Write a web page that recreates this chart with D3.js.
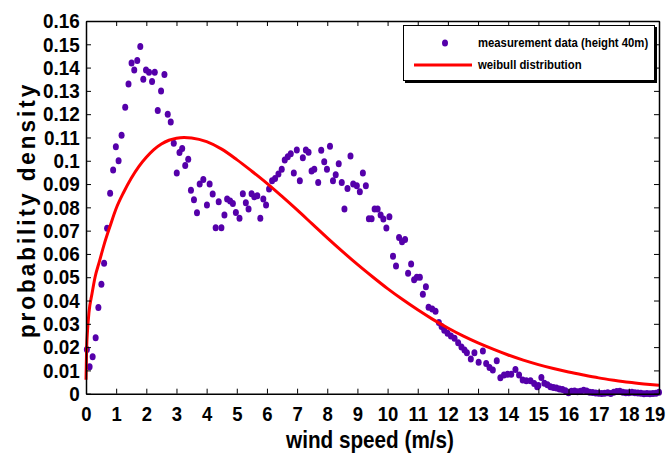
<!DOCTYPE html>
<html>
<head>
<meta charset="utf-8">
<script src="https://cdn.jsdelivr.net/npm/d3@7"></script>
<style>
  body { margin: 0; background: #fff; }
  svg { display: block; }
  .tick text, .lbl { font-family: "Liberation Sans", Arial, sans-serif; font-weight: bold; fill: #000; }
</style>
</head>
<body>
<div id="chart"></div>
<script>
// measured histogram (wind speed m/s, probability density)
const windSpeed = [0.03,0.12,0.22,0.32,0.41,0.51,0.60,0.70,0.80,0.90,0.99,1.08,1.18,1.30,1.41,1.51,1.60,1.70,1.80,1.90,
  1.99,2.09,2.19,2.28,2.38,2.49,2.60,2.71,2.81,2.91,3.01,3.10,3.19,3.29,3.39,3.48,3.58,3.68,3.77,3.89,
  4.01,4.10,4.20,4.30,4.40,4.49,4.59,4.68,4.78,4.87,4.97,5.09,5.20,5.30,5.39,5.49,5.58,5.68,5.78,5.88,
  5.97,6.07,6.17,6.27,6.38,6.49,6.59,6.69,6.79,6.89,6.99,7.09,7.19,7.29,7.38,7.48,7.57,7.70,7.80,7.90,
  7.99,8.09,8.19,8.28,8.38,8.48,8.57,8.67,8.77,8.86,8.98,9.08,9.18,9.28,9.38,9.47,9.57,9.67,9.77,9.86,
  9.96,10.06,10.18,10.28,10.38,10.48,10.58,10.68,10.78,10.88,10.97,11.07,11.17,11.27,11.36,11.48,11.59,11.70,11.79,11.88,
  11.99,12.10,12.22,12.34,12.45,12.55,12.63,12.76,12.88,13.02,13.16,13.27,13.38,13.49,13.62,13.74,13.86,13.98,14.10,14.24,
  14.36,14.48,14.60,14.74,14.86,14.96,15.0,15.1,15.2,15.3,15.4,15.5,15.6,15.7,15.8,15.9,16.0,16.1,16.2,16.3,
  16.4,16.5,16.6,16.7,16.8,16.9,17.0,17.1,17.2,17.3,17.4,17.5,17.6,17.7,17.8,17.9,18.0,18.1,18.2,18.3,
  18.4,18.5,18.6,18.7,18.8,18.9,19.0];
const measured = [0.019,0.0116,0.0159,0.024,0.037,0.047,0.056,0.071,0.086,0.096,0.106,0.100,0.111,0.123,0.133,0.142,0.139,0.143,0.149,0.135,
  0.139,0.138,0.134,0.138,0.1216,0.130,0.137,0.120,0.1166,0.1075,0.0947,0.1036,0.1053,0.098,0.1006,0.0873,0.0833,0.0777,0.090,0.092,
  0.081,0.090,0.0857,0.0712,0.0824,0.0712,0.0767,0.0836,0.0827,0.0817,0.0778,0.0753,0.0858,0.082,0.0793,0.0858,0.0845,0.085,0.0753,0.0836,
  0.081,0.0879,0.0914,0.0924,0.0943,0.0964,0.1003,0.1017,0.103,0.0947,0.1046,0.0914,0.1013,0.1046,0.1037,0.0956,0.0964,0.0907,0.1045,0.0996,
  0.0964,0.1062,0.0914,0.094,0.0987,0.0907,0.0793,0.0881,0.102,0.090,0.0893,0.0867,0.0947,0.0893,0.0751,0.0751,0.0793,0.0793,0.0767,0.075,
  0.0711,0.076,0.059,0.0548,0.0671,0.0652,0.0662,0.0517,0.0557,0.0489,0.050,0.050,0.0427,0.0459,0.0371,0.0364,0.0354,0.0306,0.0288,0.0272,
  0.0259,0.0248,0.0238,0.0219,0.0201,0.0188,0.0176,0.0149,0.0176,0.0135,0.0183,0.0130,0.0112,0.0102,0.0141,0.0069,0.0080,0.0083,0.0083,0.0104,
  0.0080,0.0059,0.0056,0.0056,0.0044,0.0030,0.0035,0.0070,0.0045,0.0038,0.0030,0.0027,0.0024,0.0020,0.0018,0.0013,0.0004,0.0011,0.0012,0.0008,
  0.0010,0.0015,0.0012,0.0006,0.0005,0.0003,0.0002,0.0001,0.0002,0.0004,0.0001,0.0006,0.0009,0.0011,0.0006,0.0004,0.0004,0.0006,0.0004,0.0003,
  0.0002,0.0000,0.0001,0.0000,0.0001,0.0002,0.0006];

// fitted weibull curve
const fitSpeed = [0,0.02,0.05,0.1,0.2,0.3,0.45,0.6,0.8,1.0,1.25,1.5,1.75,2.0,2.25,2.5,2.75,3.0,3.25,3.5,4.0,4.5,5.0,5.5,6.0,6.5,7.0,7.5,8.0,8.5,
  9.0,9.5,10.0,10.5,11.0,11.5,12.0,12.5,13.0,13.5,14.0,14.5,15.0,15.5,16.0,16.5,17.0,17.5,18.0,18.5,19.0];
const fitDensity = [0.006,0.019,0.027,0.035,0.043,0.050,0.057,0.064,0.072,0.0795,0.0865,0.0925,0.0975,0.1015,0.1048,0.1072,0.1088,0.1097,0.1100,0.1098,
  0.1082,0.105,0.1005,0.0955,0.0903,0.0847,0.0789,0.0729,0.0669,0.0611,0.0555,0.0502,0.0451,0.0404,0.036,0.0319,0.0282,0.0248,0.0218,0.0191,
  0.0166,0.0144,0.0125,0.0108,0.0093,0.008,0.0068,0.0058,0.0049,0.0042,0.0036];

const xTicks = d3.range(0, 20);
const xTickLabels = xTicks.map(String);
const yTicks = [0,0.01,0.02,0.03,0.04,0.05,0.06,0.07,0.08,0.09,0.1,0.11,0.12,0.13,0.14,0.15,0.16];
const yTickLabels = ["0","0.01","0.02","0.03","0.04","0.05","0.06","0.07","0.08","0.09","0.1","0.11","0.12","0.13","0.14","0.15","0.16"];
const legendLabels = ["measurement data (height 40m)", "weibull distribution"];

const W = 667, H = 463;
const plotL = 86, plotR = 659, plotT = 21, plotB = 393.7;

const svg = d3.select("#chart").append("svg").attr("width", W).attr("height", H);

const x = d3.scaleLinear().domain([0, 19]).range([plotL, plotR]);
const y = d3.scaleLinear().domain([0, 0.16]).range([plotB, plotT]);

const pts = windSpeed.map((d, i) => [d, measured[i]]);
svg.append("g").selectAll("ellipse").data(pts).enter().append("ellipse")
  .attr("cx", d => x(d[0])).attr("cy", d => y(d[1]))
  .attr("rx", 3).attr("ry", 3.5)
  .attr("fill", "#5500aa");

const line = d3.line().x(d => x(d[0])).y(d => y(d[1])).curve(d3.curveMonotoneX);
svg.append("path")
  .datum(fitSpeed.map((d, i) => [d, fitDensity[i]]))
  .attr("d", line)
  .attr("fill", "none").attr("stroke", "#ff0000").attr("stroke-width", 3);

// axes with inward ticks; the labels use a narrow bold face, so squash them
const xAxis = d3.axisBottom(x).tickValues(xTicks).tickFormat((d, i) => xTickLabels[i])
  .tickSizeInner(-5).tickSizeOuter(0).tickPadding(12);
const gx = svg.append("g").attr("transform", `translate(0,${plotB})`).call(xAxis);
gx.selectAll("text").style("font-size", "21px").attr("transform", "scale(0.88,1)");
gx.selectAll(".tick:last-of-type text").attr("x", -5);

const yAxis = d3.axisLeft(y).tickValues(yTicks).tickFormat((d, i) => yTickLabels[i])
  .tickSizeInner(-5).tickSizeOuter(0).tickPadding(6);
const gy = svg.append("g").attr("transform", `translate(${plotL},0)`).call(yAxis);
gy.selectAll("text").style("font-size", "21px").attr("x", -7).attr("transform", "scale(0.9,1)");

svg.append("g").attr("transform", `translate(0,${plotT})`)
  .call(d3.axisTop(x).tickValues(xTicks).tickFormat("").tickSizeInner(-5).tickSizeOuter(0));
svg.append("g").attr("transform", `translate(${plotR},0)`)
  .call(d3.axisRight(y).tickValues(yTicks).tickFormat("").tickSizeInner(-5).tickSizeOuter(0));

svg.selectAll(".domain").attr("stroke", "#000").attr("stroke-width", 1.5);
svg.selectAll(".tick line").attr("stroke", "#000");

// axis titles
svg.append("text").attr("class", "lbl")
  .attr("transform", "translate(370,448) scale(0.9,1)")
  .attr("text-anchor", "middle").style("font-size", "23px")
  .text("wind speed (m/s)");

svg.append("text").attr("class", "lbl")
  .attr("transform", "translate(35,210) rotate(-90) scale(0.98,1)")
  .attr("text-anchor", "middle").style("font-size", "23px")
  .style("letter-spacing", "3px")
  .text("probability density");

// legend
const lg = svg.append("g");
lg.append("rect").attr("x", 405).attr("y", 27).attr("width", 252).attr("height", 56).attr("fill", "#000");
lg.append("rect").attr("x", 403.5).attr("y", 25.5).attr("width", 251).attr("height", 55)
  .attr("fill", "#fff").attr("stroke", "#000").attr("stroke-width", 1);
lg.append("ellipse").attr("cx", 445).attr("cy", 43).attr("rx", 3).attr("ry", 3.5).attr("fill", "#5500aa");
lg.append("line").attr("x1", 414).attr("x2", 472).attr("y1", 65).attr("y2", 65)
  .attr("stroke", "#ff0000").attr("stroke-width", 3);
lg.selectAll(".lt").data(legendLabels).enter().append("text").attr("class", "lbl")
  .attr("transform", (d, i) => `translate(478,${47 + i * 22}) scale(0.87,1)`)
  .style("font-size", "13px")
  .text(d => d);
</script>
</body>
</html>
